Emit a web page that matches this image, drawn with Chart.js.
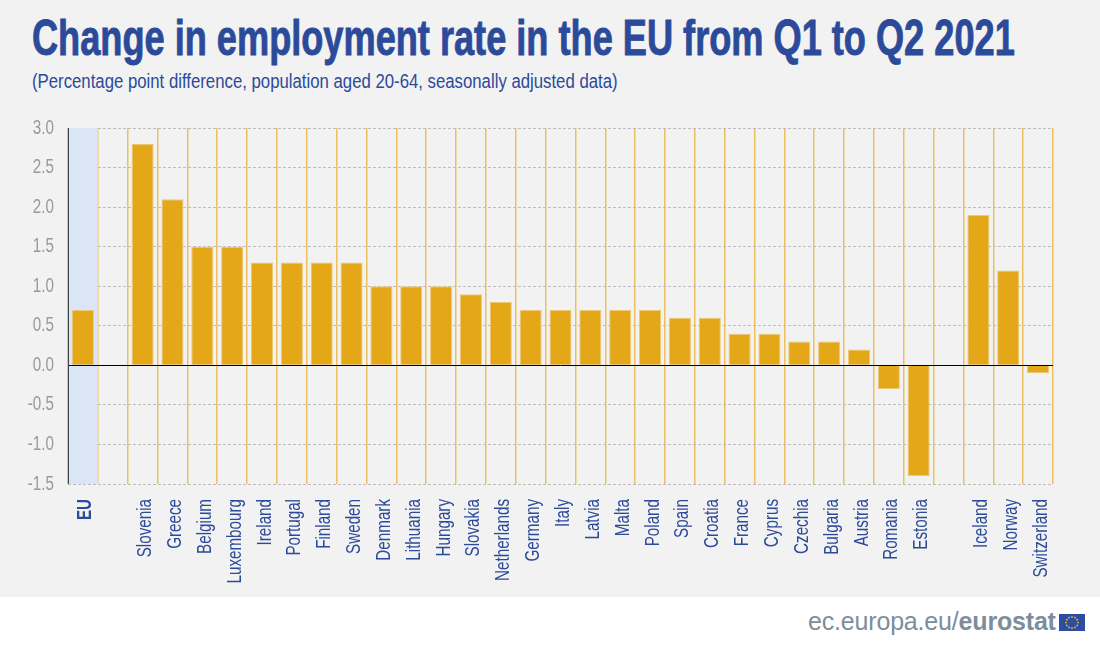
<!DOCTYPE html>
<html>
<head>
<meta charset="utf-8">
<title>Change in employment rate in the EU</title>
<script src="https://cdn.jsdelivr.net/npm/chart.js@4"></script>
<style>
    html, body { margin: 0; padding: 0; background: #fff; }
    #page { position: relative; width: 1100px; height: 647px; overflow: hidden; }
    #panel { position: absolute; left: 0; top: 0; width: 1100px; height: 597px; background: #f2f2f2; }
    #chartBox { position: absolute; left: 0; top: 0; width: 1100px; height: 597px; }
    h1, p { position: absolute; margin: 0; white-space: nowrap; transform-origin: left top; color: #2c4a9a; }
    h1 { left: 32px; top: 9px; font: bold 50px "Liberation Sans", sans-serif; -webkit-text-stroke: 0.9px #2c4a9a; }
    #subtitle { left: 32px; top: 70px; font: 19.5px "Liberation Sans", sans-serif; }
    #source { left: 808px; top: 607px; font: 25px "Liberation Sans", sans-serif; color: #7d8d9c; letter-spacing: -0.18px; }
    #flag { position: absolute; left: 1059px; top: 614px; }
</style>
</head>
<body>
<div id="page">
    <div id="panel"></div>
    <h1 id="title">Change in employment rate in the EU from Q1 to Q2 2021</h1>
    <p id="subtitle">(Percentage point difference, population aged 20-64, seasonally adjusted data)</p>
    <div id="chartBox"><canvas id="employmentChart"></canvas></div>
    <p id="source">ec.europa.eu/<b>eurostat</b></p>
    <svg id="flag" width="26" height="17" viewBox="0 0 26 18" preserveAspectRatio="none">
        <rect width="26" height="18" fill="#2f4da0"/>
        <g fill="#f2c81e">
            <circle cx="13" cy="3" r="0.9"/><circle cx="16" cy="3.8" r="0.9"/><circle cx="18.2" cy="6" r="0.9"/>
            <circle cx="19" cy="9" r="0.9"/><circle cx="18.2" cy="12" r="0.9"/><circle cx="16" cy="14.2" r="0.9"/>
            <circle cx="13" cy="15" r="0.9"/><circle cx="10" cy="14.2" r="0.9"/><circle cx="7.8" cy="12" r="0.9"/>
            <circle cx="7" cy="9" r="0.9"/><circle cx="7.8" cy="6" r="0.9"/><circle cx="10" cy="3.8" r="0.9"/>
        </g>
    </svg>
</div>
<script>
// Chart data
const countries = ['EU', '', 'Slovenia', 'Greece', 'Belgium', 'Luxembourg', 'Ireland', 'Portugal', 'Finland', 'Sweden',
    'Denmark', 'Lithuania', 'Hungary', 'Slovakia', 'Netherlands', 'Germany', 'Italy', 'Latvia', 'Malta', 'Poland',
    'Spain', 'Croatia', 'France', 'Cyprus', 'Czechia', 'Bulgaria', 'Austria', 'Romania', 'Estonia', '',
    'Iceland', 'Norway', 'Switzerland'];
const changeValues = [0.7, null, 2.8, 2.1, 1.5, 1.5, 1.3, 1.3, 1.3, 1.3,
    1.0, 1.0, 1.0, 0.9, 0.8, 0.7, 0.7, 0.7, 0.7, 0.7,
    0.6, 0.6, 0.4, 0.4, 0.3, 0.3, 0.2, -0.3, -1.4, null,
    1.9, 1.2, -0.1];
const yMin = -1.5;
const yMax = 3.0;
const yStep = 0.5;

const baseFont = '"Liberation Sans", sans-serif';

// No condensed font is installed, so squeeze the headings to the original widths
const fitWidth = (id, width) => {
    const el = document.getElementById(id);
    el.style.transform = 'scaleX(' + width / el.offsetWidth + ')';
};
fitWidth('title', 983);
fitWidth('subtitle', 586);

// Same for the tick labels: narrow every text the chart writes on its canvas
const canvas = document.getElementById('employmentChart');
const canvasCtx = canvas.getContext('2d');
const plainFillText = canvasCtx.fillText;
const textSqueeze = 0.76;
canvasCtx.fillText = function(text, x, y, maxWidth) {
    this.save();
    this.scale(textSqueeze, 1);
    plainFillText.call(this, text, x / textSqueeze, y, maxWidth);
    this.restore();
};

// EU band behind the bars, black zero line and dark left edge on top of them
const euBand = {
    id: 'euBand',
    beforeDatasetsDraw(chart) {
        const { ctx, chartArea, scales } = chart;
        const step = scales.x.getPixelForValue(1) - scales.x.getPixelForValue(0);
        ctx.save();
        ctx.fillStyle = '#dae5f6';
        ctx.fillRect(chartArea.left, chartArea.top, step, chartArea.bottom - chartArea.top);
        ctx.restore();
    },
    afterDatasetsDraw(chart) {
        const { ctx, chartArea, scales } = chart;
        const y = Math.round(scales.y.getPixelForValue(0)) + 0.5;
        ctx.save();
        ctx.lineWidth = 1;
        ctx.strokeStyle = '#000';
        ctx.beginPath();
        ctx.moveTo(chartArea.left, y);
        ctx.lineTo(chartArea.right, y);
        ctx.stroke();
        ctx.strokeStyle = '#444';
        ctx.beginPath();
        ctx.moveTo(chartArea.left + 0.5, chartArea.top);
        ctx.lineTo(chartArea.left + 0.5, chartArea.bottom);
        ctx.stroke();
        ctx.restore();
    }
};

new Chart(canvas, {
    type: 'bar',
    data: {
        labels: countries,
        datasets: [{
            data: changeValues,
            backgroundColor: '#e3a718',
            borderColor: '#ecc877',
            borderWidth: 1,
            barPercentage: 0.74,
            categoryPercentage: 1
        }]
    },
    options: {
        responsive: true,
        maintainAspectRatio: false,
        animation: false,
        layout: { padding: { left: 0, right: 47, top: 128, bottom: 0 } },
        plugins: { legend: { display: false }, tooltip: { enabled: false } },
        scales: {
            x: {
                afterFit(scale) { scale.height = 113; },
                grid: { color: '#ecc061', lineWidth: 1.5, drawTicks: false, offset: true },
                border: { display: false },
                ticks: {
                    autoSkip: false,
                    minRotation: 90,
                    maxRotation: 90,
                    padding: 15,
                    labelOffset: 3,
                    color: '#2c4a9a',
                    font: ctx => ({
                        family: baseFont,
                        size: 20,
                        weight: ctx.index === 0 ? 'bold' : 'normal'
                    })
                }
            },
            y: {
                min: yMin,
                max: yMax,
                afterFit(scale) { scale.width = 68; },
                grid: { color: '#bdbdbd', drawTicks: false },
                border: { display: false, dash: [3, 2] },
                ticks: {
                    stepSize: yStep,
                    padding: 14,
                    color: '#9a9a9a',
                    font: { family: baseFont, size: 20 },
                    callback: value => value.toFixed(1)
                }
            }
        }
    },
    plugins: [euBand]
});
</script>
</body>
</html>
